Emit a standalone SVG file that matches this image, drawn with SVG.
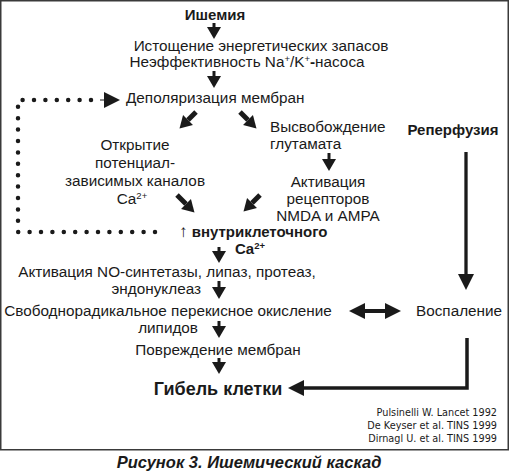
<svg xmlns="http://www.w3.org/2000/svg" width="510" height="472" viewBox="0 0 510 472">
<style>
text{font-family:"Liberation Sans",Arial,sans-serif;fill:#1a1a1a;font-size:15.3px}
.b{font-weight:bold;font-size:15px}
.c{text-anchor:middle}
.r{text-anchor:end}
.ref{font-family:"DejaVu Sans",Verdana,sans-serif;font-size:9.7px}
.cap{font-weight:bold;font-style:italic;font-size:16.5px}
.sup{font-size:9.5px}
.ln{stroke:#1a1a1a;fill:none}
.dot{stroke:#1a1a1a;fill:none;stroke-width:4.5;stroke-linecap:round}
</style>
<defs>
<marker id="h1" markerUnits="userSpaceOnUse" markerWidth="14" markerHeight="14" refX="0" refY="7" orient="auto" overflow="visible"><path d="M0,0 L12,7 L0,14 z" fill="#1a1a1a"/></marker>
<marker id="h2" markerUnits="userSpaceOnUse" markerWidth="17" markerHeight="16" refX="0" refY="8" orient="auto-start-reverse" overflow="visible"><path d="M0,0 L16,8 L0,16 z" fill="#1a1a1a"/></marker>
</defs>
<rect x="0.75" y="0.75" width="507.5" height="449" fill="#fff" stroke="#3a3a3a" stroke-width="1.5"/>

<g id="ishemia"><text class="b c" x="215" y="20">Ишемия</text></g>
<g id="istoshenie"><text class="c" x="261" y="51">Истощение энергетических запасов</text>
<text class="c" x="247" y="67">Неэффективность Na<tspan class="sup" dy="-5">+</tspan><tspan dy="5">/K</tspan><tspan class="sup" dy="-5">+</tspan><tspan dy="5" style="font-weight:bold">-</tspan>насоса</text></g>
<g id="depol"><text x="126" y="103">Деполяризация мембран</text></g>
<g id="otkrytie"><text class="c" x="135" y="150">Открытие</text>
<text class="c" x="135" y="168">потенциал-</text>
<text class="c" x="135" y="186">зависимых каналов</text>
<text class="c" x="132" y="204">Ca<tspan class="sup" dy="-5">2+</tspan></text></g>
<g id="vysvob"><text x="270" y="132">Высвобождение</text>
<text x="270" y="149">глутамата</text></g>
<g id="aktiv-rec"><text class="c" x="328" y="187">Активация</text>
<text class="c" x="328" y="204">рецепторов</text>
<text class="c" x="328" y="221">NMDA и AMPA</text></g>
<g id="reperf"><text class="b c" x="453" y="135">Реперфузия</text></g>
<g id="ca"><text class="b" x="179" y="237"><tspan style="font-size:17px">↑</tspan> внутриклеточного</text>
<text class="b" x="235" y="254">Ca<tspan class="sup" dy="-5">2+</tspan></text></g>
<g id="aktiv-no"><text class="c" x="167" y="277">Активация NO-синтетазы, липаз, протеаз,</text>
<text class="r" x="201" y="294">эндонуклеаз</text></g>
<g id="svob"><text class="c" x="168" y="316">Свободнорадикальное перекисное окисление</text>
<text class="r" x="198" y="333">липидов</text></g>
<g id="vospal"><text x="416" y="316">Воспаление</text></g>
<g id="povr"><text class="c" x="218" y="355">Повреждение мембран</text></g>
<g id="gibel"><text class="b c" x="218" y="395" style="font-size:18px">Гибель клетки</text></g>
<g id="refs"><text class="ref r" x="497" y="416">Pulsinelli W. Lancet 1992</text>
<text class="ref r" x="497" y="429">De Keyser et al. TINS 1999</text>
<text class="ref r" x="497" y="442">Dirnagl U. et al. TINS 1999</text></g>
<g id="caption"><text class="cap c" x="249" y="468">Рисунок 3. Ишемический каскад</text></g>

<g id="connectors">
<line class="ln" stroke-width="3" x1="214" y1="23" x2="214" y2="27" marker-end="url(#h1)"/>
<line class="ln" stroke-width="3" x1="214" y1="71" x2="214" y2="76" marker-end="url(#h1)"/>
<line class="ln" stroke-width="5" x1="196" y1="112" x2="188" y2="120" marker-end="url(#h1)"/>
<line class="ln" stroke-width="5" x1="240" y1="112" x2="248" y2="120" marker-end="url(#h1)"/>
<line class="ln" stroke-width="3" x1="329" y1="153" x2="329" y2="159" marker-end="url(#h1)"/>
<line class="ln" stroke-width="5" x1="177" y1="195" x2="186" y2="204" marker-end="url(#h1)"/>
<line class="ln" stroke-width="5" x1="260" y1="195" x2="252" y2="203" marker-end="url(#h1)"/>
<line class="ln" stroke-width="3" x1="219" y1="247" x2="219" y2="251" marker-end="url(#h1)"/>
<line class="ln" stroke-width="3" x1="219" y1="281" x2="219" y2="287" marker-end="url(#h1)"/>
<line class="ln" stroke-width="3" x1="219" y1="321" x2="219" y2="326" marker-end="url(#h1)"/>
<line class="ln" stroke-width="3" x1="219" y1="358" x2="219" y2="362" marker-end="url(#h1)"/>
<line class="ln" stroke-width="3.3" x1="466" y1="152" x2="466" y2="274" marker-end="url(#h2)"/>
<line class="ln" stroke-width="4" x1="365" y1="311" x2="385" y2="311" marker-start="url(#h2)" marker-end="url(#h2)"/>
<polyline class="ln" stroke-width="3.5" points="467,338 467,388 304,388" marker-end="url(#h2)"/>
<path class="dot" d="M155,232 H18 V100 H96" stroke-dasharray="0 11.4"/>
<line class="ln" stroke-width="1" x1="100" y1="100" x2="104" y2="100" marker-end="url(#h2)"/>
</g>
</svg>
